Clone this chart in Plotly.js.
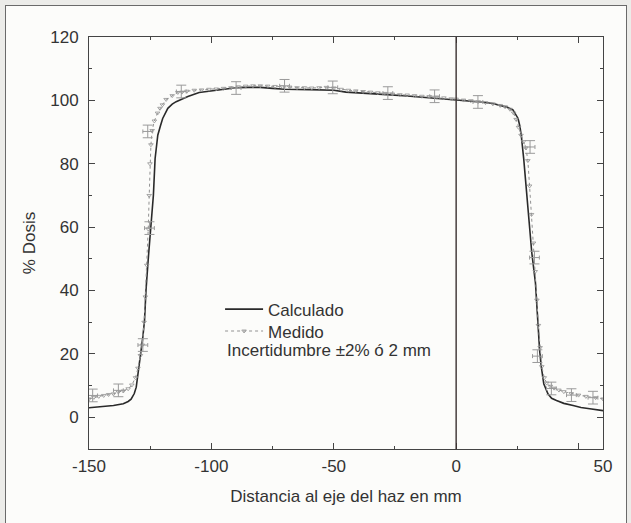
<!DOCTYPE html>
<html>
<head>
<meta charset="utf-8">
<script src="https://cdn.plot.ly/plotly-3.0.1.min.js"></script>
<style>
  html, body { margin: 0; padding: 0; width: 631px; height: 523px; overflow: hidden; background: #ecece9; }
  #panel { position: absolute; left: 5px; top: 5px; width: 620px; height: 540px; border: 1px solid #6a6a6a; background: #fcfcfa; }
  #chart { position: absolute; left: 0; top: 0; width: 631px; height: 523px; }
</style>
</head>
<body>
<div id="panel"></div>
<div id="chart"></div>
<script>
// Calculado (computed profile)
const calcX = [-150, -145, -140, -136, -134, -132.8, -131.5, -130.7, -129.7, -128.7, -128, -127.3, -126.7, -125.7, -124.6, -123.7, -123, -121.9, -120.8, -119.9, -117.8, -116, -114.4, -112, -109.6, -105, -100, -95, -90, -85, -80, -75, -70, -60, -50, -45, -40, -30, -20, -12, -5, 0, 5, 10, 15, 18, 21, 23.2, 24.3, 25.3, 26, 26.6, 27.6, 28.7, 30, 30.9, 32.4, 33.2, 34.1, 34.8, 35.8, 37.5, 39, 41, 44, 47.8, 51, 54.6, 60];
const calcY = [3.0, 3.3, 3.7, 4.3, 5.0, 5.7, 7.5, 9.5, 14.9, 20, 25.4, 30.7, 40.3, 50.9, 61.5, 70, 81.6, 89, 92, 94.3, 97.5, 98.8, 99.6, 100.5, 101.2, 102.5, 103.0, 103.5, 104.0, 104.1, 104.1, 103.8, 103.5, 103.4, 103.2, 102.6, 102.3, 101.9, 101.4, 100.9, 100.4, 100.2, 99.9, 99.5, 99.0, 98.5, 97.8, 97, 95.8, 94.3, 92, 89, 81.6, 71, 60.4, 52, 42.4, 31.8, 21.2, 15.9, 10.6, 7.4, 6.0, 5.3, 4.4, 3.7, 3.1, 2.7, 2.1];

// Medido (measured profile)
const medX = [-150, -148, -146, -144, -142, -140, -138, -136, -134, -132.5, -131, -130, -129, -128.2, -127.5, -127, -126.4, -125.8, -125.4, -125.1, -124.7, -124.2, -123.3, -122, -121, -120, -118.5, -116, -113.7, -112, -110, -107, -104, -101, -98, -95, -92, -89, -86, -83, -80, -77, -74, -71, -68, -65, -62, -59, -56, -53, -50, -47, -44, -41, -38, -35, -32, -29, -26, -23, -20, -17, -14, -11, -8, -5, -2, 0, 3, 6, 9, 12, 15, 18, 20, 22, 23.5, 24.5, 25.5, 26.5, 27.5, 28.5, 29.3, 30, 30.8, 31.6, 32.3, 33, 33.6, 34.3, 35, 36, 37, 38.5, 40, 42, 44, 47, 50, 53, 57, 60];
const medY = [5.8, 6.3, 6.6, 6.9, 7.2, 7.4, 8.0, 8.3, 9.0, 10.2, 12.5, 15.5, 19.5, 22.8, 30, 38, 48, 59.4, 70, 80, 86, 90.5, 93.5, 96, 97.5, 98.6, 100.3, 101.5, 102.5, 102.6, 102.9, 103.2, 103.3, 103.5, 103.6, 103.8, 104.0, 104.3, 104.5, 104.6, 104.6, 104.5, 104.4, 104.3, 104.2, 104.0, 104.0, 103.9, 104.0, 104.1, 103.9, 103.5, 103.2, 103.0, 102.8, 102.6, 102.4, 102.2, 102.0, 101.8, 101.7, 101.5, 101.3, 101.2, 101.0, 100.8, 100.5, 100.4, 100.1, 99.9, 99.6, 99.3, 98.9, 98.4, 98.0, 97.2, 96, 94, 91.5, 89, 87, 85, 81, 73, 64, 55, 46, 37, 29, 22, 16, 12.5, 10.8, 9.8, 9.2, 8.6, 8.1, 7.5, 7.0, 6.6, 6.2, 5.8];

// Medido points with uncertainty bars (±2 % / ±2 mm)
const errX = [-148.5, -138, -128, -125.3, -126, -112.3, -89.9, -70.1, -50.4, -27.9, -8.8, 8.9, 30.2, 32.0, 33.2, 38.9, 47.1, 55.9];
const errY = [6.9, 8.5, 22.8, 59.7, 90.2, 102.8, 103.9, 104.6, 104.1, 102.3, 101.3, 99.5, 85.3, 50.4, 19.3, 9.1, 7.0, 6.2];
const errPct = 2;
const errMm = 2;

// Axis ticks
const xTickVals = [-150, -100, -50, 0, 50];
const xLabelVals = [-150, -100, -50, 0, 60];
const xTickText = ['-150', '-100', '-50', '0', '50'];
const yTickVals = [0, 20, 40, 60, 80, 100, 120];

const FONT = 'Liberation Sans, Arial, Helvetica, sans-serif';
const INK = '#333333';

const traces = [
  {
    x: calcX, y: calcY, name: 'Calculado', type: 'scatter', mode: 'lines', legend: 'legend',
    line: { color: '#2a2a2a', width: 1.6 }
  },
  {
    x: medX, y: medY, name: 'Medido', type: 'scatter', mode: 'lines+markers', legend: 'legend2',
    line: { color: '#929292', width: 1, dash: 'dot' },
    marker: { symbol: 'triangle-down-open', size: 4, color: '#929292', line: { width: 0.8, color: '#929292' } }
  },
  {
    x: errX, y: errY, name: 'Incertidumbre', type: 'scatter', mode: 'markers', showlegend: false,
    xaxis: 'x2', yaxis: 'y',
    marker: { size: 1, color: '#9a9a9a' },
    error_y: { type: 'constant', value: errPct, width: 5, thickness: 1, color: '#9a9a9a' },
    error_x: { type: 'constant', value: errMm, width: 2, thickness: 1, color: '#9a9a9a' }
  }
];

const legendCommon = {
  xanchor: 'left', yanchor: 'top',
  bgcolor: 'rgba(0,0,0,0)', borderwidth: 0,
  font: { family: FONT, size: 17, color: INK },
  tracegroupgap: 0, itemwidth: 38
};

const layout = {
  width: 631, height: 523,
  margin: { l: 89, r: 28, t: 37, b: 74 },
  paper_bgcolor: 'rgba(0,0,0,0)',
  plot_bgcolor: 'rgba(0,0,0,0)',
  font: { family: FONT, color: INK, size: 17 },
  showlegend: true,
  legend: Object.assign({ x: 0.255, y: 0.382 }, legendCommon),
  legend2: Object.assign({ x: 0.255, y: 0.329 }, legendCommon),
  xaxis: {
    range: [-150, 60], showgrid: false, zeroline: false,
    showline: true, linecolor: '#444', linewidth: 1, mirror: 'ticks',
    ticks: 'inside', ticklen: 6, tickcolor: '#444', tickmode: 'array',
    tickvals: xTickVals, showticklabels: false,
    minor: { tickmode: 'array', tickvals: [-125, -75, -25, 25], ticks: 'inside', ticklen: 3, tickcolor: '#444' }
  },
  xaxis2: {
    overlaying: 'x', anchor: 'y', side: 'bottom', range: [-150, 60],
    showgrid: false, zeroline: false, showline: false, ticks: '',
    tickmode: 'array', tickvals: xLabelVals, ticktext: xTickText,
    tickfont: { family: FONT, size: 17, color: INK }, ticklabelstandoff: 5,
    title: { text: 'Distancia al eje del haz en mm', font: { family: FONT, size: 17, color: INK }, standoff: 15 }
  },
  yaxis: {
    range: [-10, 120], showgrid: false, zeroline: false,
    showline: true, linecolor: '#444', linewidth: 1, mirror: 'ticks',
    ticks: 'inside', ticklen: 6, tickcolor: '#444', tickmode: 'array',
    tickvals: yTickVals, ticklabelstandoff: 6,
    tickfont: { family: FONT, size: 17, color: INK },
    minor: { tickmode: 'array', tickvals: [10, 30, 50, 70, 90, 110], ticks: 'inside', ticklen: 3, tickcolor: '#444' },
    title: { text: '% Dosis', font: { family: FONT, size: 17, color: INK }, standoff: 10 }
  },
  shapes: [
    { type: 'line', xref: 'x', yref: 'paper', x0: 0, x1: 0, y0: 0, y1: 1, line: { color: '#3a3030', width: 1.4 } }
  ],
  annotations: [
    { text: 'Incertidumbre ±2% ó 2 mm', xref: 'paper', yref: 'paper', x: 0.264, y: 0.238, xanchor: 'left', yanchor: 'middle',
      showarrow: false, font: { family: FONT, size: 17, color: INK } }
  ]
};

Plotly.newPlot('chart', traces, layout, { displayModeBar: false, staticPlot: true });
</script>
</body>
</html>
